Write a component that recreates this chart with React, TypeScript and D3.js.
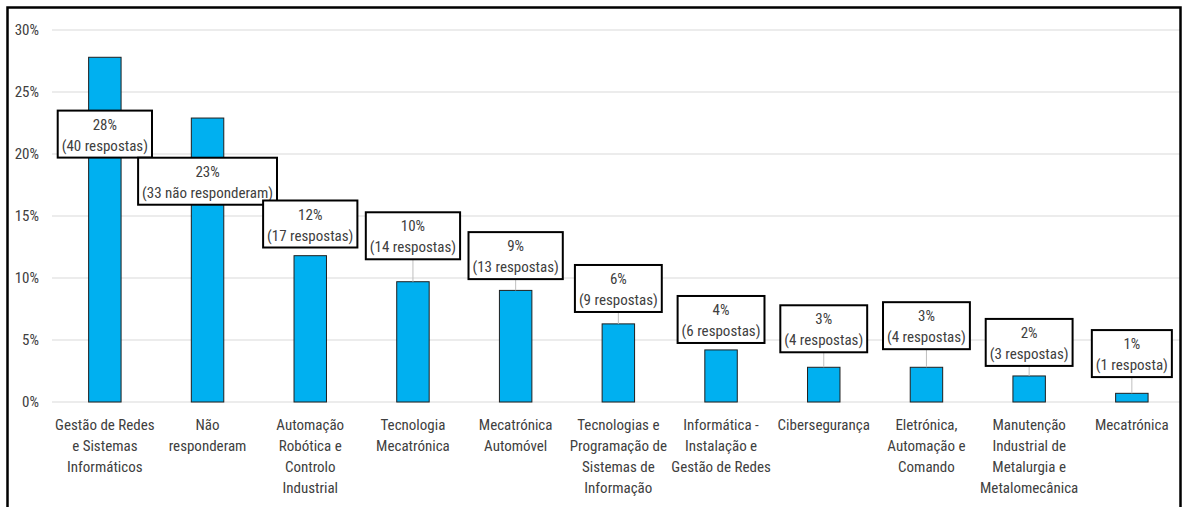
import React from "react";
import * as d3 from "d3";

// ---- data ----
const categories: string[] = [
  "Gestão de Redes\ne Sistemas\nInformáticos",
  "Não\nresponderam",
  "Automação\nRobótica e\nControlo\nIndustrial",
  "Tecnologia\nMecatrónica",
  "Mecatrónica\nAutomóvel",
  "Tecnologias e\nProgramação de\nSistemas de\nInformação",
  "Informática -\nInstalação e\nGestão de Redes",
  "Cibersegurança",
  "Eletrónica,\nAutomação e\nComando",
  "Manutenção\nIndustrial de\nMetalurgia e\nMetalomecânica",
  "Mecatrónica",
];
const percents: number[] = [27.8, 22.9, 11.8, 9.7, 9.0, 6.3, 4.2, 2.8, 2.8, 2.1, 0.7];
const percentLabels: string[] = ["28%", "23%", "12%", "10%", "9%", "6%", "4%", "3%", "3%", "2%", "1%"];
const countLabels: string[] = [
  "(40 respostas)",
  "(33 não responderam)",
  "(17 respostas)",
  "(14 respostas)",
  "(13 respostas)",
  "(9 respostas)",
  "(6 respostas)",
  "(4 respostas)",
  "(4 respostas)",
  "(3 respostas)",
  "(1 resposta)",
];
const yTicks: number[] = [0, 5, 10, 15, 20, 25, 30];
// label box top edge, in % units (where each data label was placed)
const labelTops: number[] = [23.5, 19.7, 16.25, 15.3, 13.7, 11.05, 8.55, 7.8, 8.05, 6.7, 5.8];

const W = 1183;
const H = 507;
const FONT = "'Liberation Sans Narrow', 'Roboto Condensed', 'Open Sans', sans-serif";

export default function App() {
  const x = d3
    .scaleBand<string>()
    .domain(categories)
    .range([53.5, 1183.2])
    .paddingInner(0.684)
    .paddingOuter(0.342);
  const y = d3.scaleLinear().domain([0, 30]).range([402, 30]);
  const boxH = 47;

  const measure = (s: string) => {
    if (typeof document === "undefined") return s.length * 7;
    const c = document.createElement("canvas").getContext("2d")!;
    c.font = `15px ${FONT}`;
    return c.measureText(s).width;
  };

  return (
    <div style={{ position: "fixed", left: 0, top: 0 }}>
      <svg width={W} height={H} style={{ display: "block", background: "#fff" }}>
        {/* gridlines */}
        {yTicks.map((t) => (
          <line key={"g" + t} x1={52} x2={1180} y1={y(t)} y2={y(t)} stroke="#d9d9d9" strokeWidth={1} />
        ))}
        {/* y tick labels */}
        {yTicks.map((t) => (
          <text
            key={"t" + t}
            x={39}
            y={y(t)}
            dy="0.35em"
            textAnchor="end"
            fontFamily={FONT}
            fontSize={15}
            fill="#404040"
          >
            {t}%
          </text>
        ))}
        {/* bars */}
        {categories.map((c, i) => (
          <rect
            key={"b" + i}
            x={x(c)!}
            y={y(percents[i])}
            width={x.bandwidth()}
            height={y(0) - y(percents[i])}
            fill="#00b0f0"
            stroke="#1f1f1f"
            strokeWidth={1}
          />
        ))}
        {/* x labels */}
        {categories.map((c, i) => {
          const cx = x(c)! + x.bandwidth() / 2;
          return (
            <text key={"x" + i} textAnchor="middle" fontFamily={FONT} fontSize={15} fill="#404040">
              {c.split("\n").map((ln, j) => (
                <tspan key={j} x={cx} y={430 + j * 21}>
                  {ln}
                </tspan>
              ))}
            </text>
          );
        })}
        {/* data labels */}
        {categories.map((c, i) => {
          const cx = x(c)! + x.bandwidth() / 2;
          const top = y(labelTops[i]);
          const w = Math.max(measure(countLabels[i]), measure(percentLabels[i])) + 8;
          const bottom = top + boxH;
          const barTop = y(percents[i]);
          return (
            <g key={"l" + i}>
              {barTop - bottom > 9 && (
                <line x1={cx} x2={cx} y1={bottom} y2={barTop} stroke="#bfbfbf" strokeWidth={1} />
              )}
              <rect x={cx - w / 2} y={top} width={w} height={boxH} fill="#fff" stroke="#000" strokeWidth={2} />
              <text x={cx} y={top + 19} textAnchor="middle" fontFamily={FONT} fontSize={15} fill="#404040">
                {percentLabels[i]}
              </text>
              <text x={cx} y={top + 40} textAnchor="middle" fontFamily={FONT} fontSize={15} fill="#404040">
                {countLabels[i]}
              </text>
            </g>
          );
        })}
        {/* outer chart border */}
        <rect x={7.5} y={7.5} width={1173} height={530} fill="none" stroke="#000" strokeWidth={2.5} />
      </svg>
    </div>
  );
}
